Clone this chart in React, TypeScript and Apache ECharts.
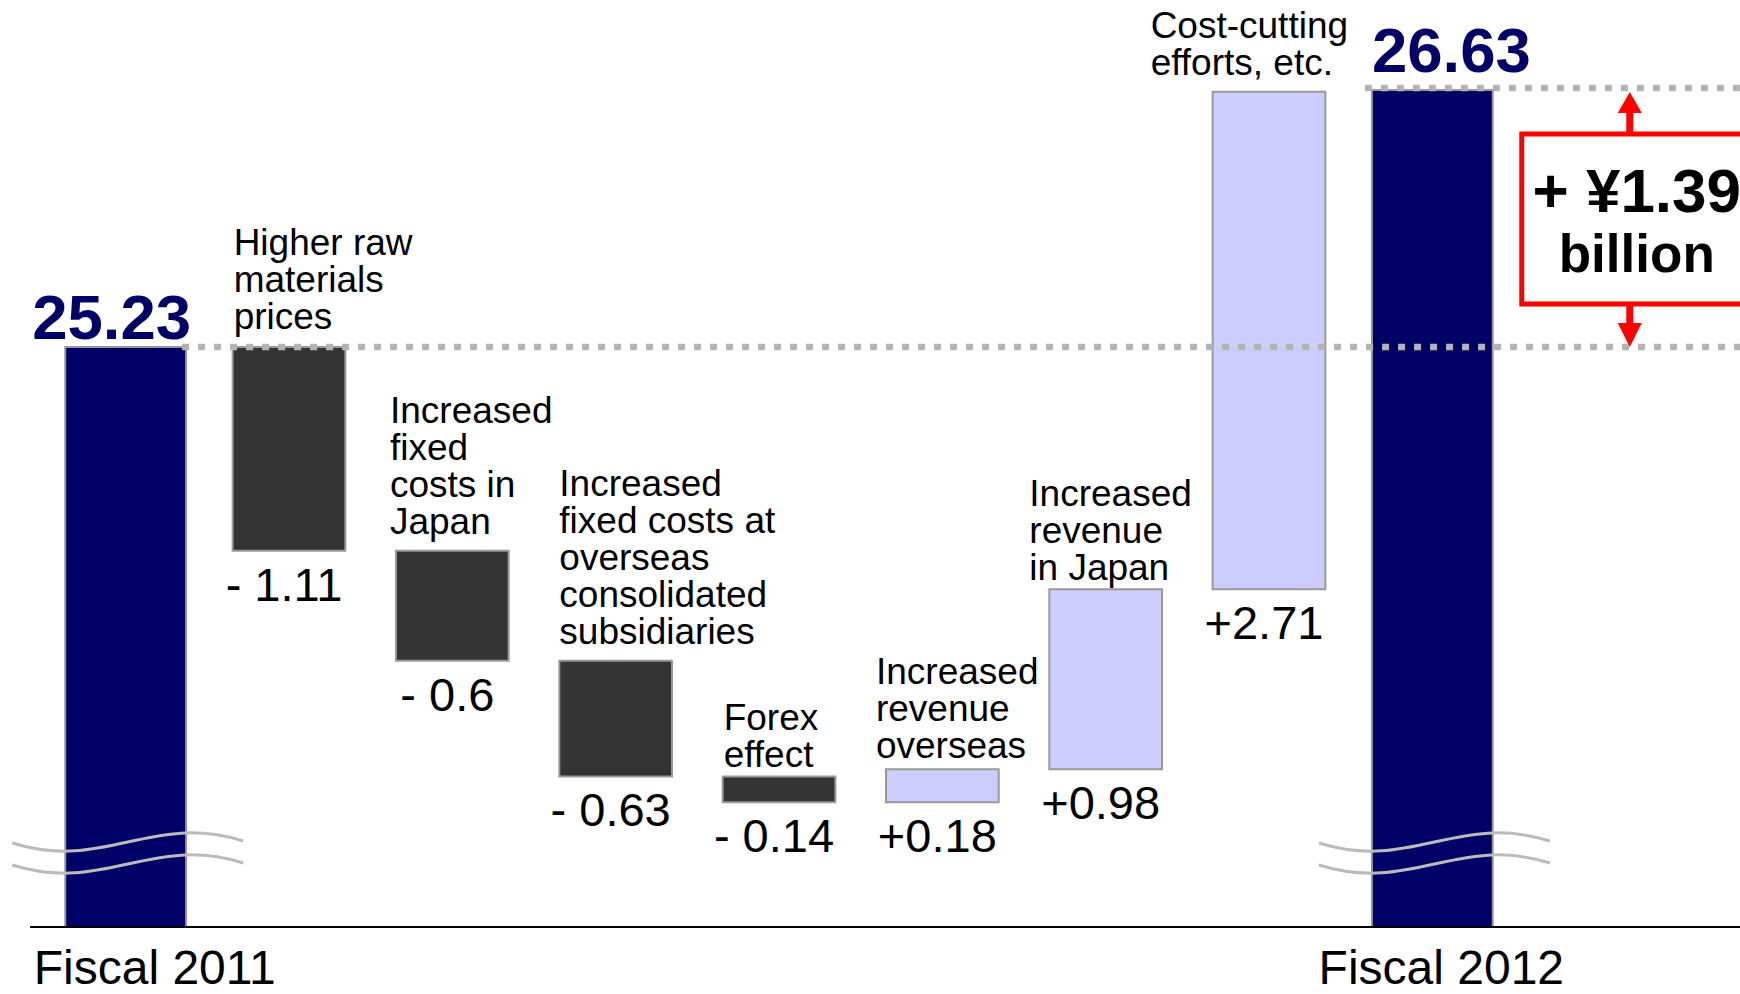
import React, { useEffect, useRef } from "react";
import * as echarts from "echarts";

// Operating income bridge, Fiscal 2011 -> Fiscal 2012 (¥ billion)
const categories = [
  "Fiscal 2011",
  "Higher raw\nmaterials\nprices",
  "Increased\nfixed\ncosts in\nJapan",
  "Increased\nfixed costs at\noverseas\nconsolidated\nsubsidiaries",
  "Forex\neffect",
  "Increased\nrevenue\noverseas",
  "Increased\nrevenue\nin Japan",
  "Cost-cutting\nefforts, etc.",
  "Fiscal 2012",
];
const startTotal = 25.23;
const endTotal = 26.63;
const changes = [-1.11, -0.6, -0.63, -0.14, 0.18, 0.98, 2.71];
const unitLabel = "billion";

// broken value axis: only the upper part of the totals is shown
const Y_MIN = 22.07;
const Y_MAX = 27.12;

const FONT = "'Liberation Sans', Arial, Helvetica, sans-serif";
const NAVY = "#000066";
const DARK = "#333333";
const LIGHT = "#ccccff";
const EDGE = "#999999";
const DASH = "#b3b3b3";
const RED = "#ff0000";

// small per-bar nudges for the caption blocks (px)
const descDx = [0, 1, -6, 0, 1, -10, -20, -62, 0];
const descGap = [0, 12, 11, 11, 3, 5, 3, 11, 0];

const TOTAL_W = 0.74;
const STEP_W = 0.69;

function buildRows() {
  const rows: number[][] = [];
  rows.push([0, Y_MIN, startTotal, 0, startTotal]);
  let run = startTotal;
  changes.forEach((c, k) => {
    const next = run + c;
    rows.push([k + 1, Math.min(run, next), Math.max(run, next), c < 0 ? 1 : 2, c]);
    run = next;
  });
  rows.push([categories.length - 1, Y_MIN, endTotal, 0, endTotal]);
  return rows;
}

function fmtChange(c: number) {
  return c < 0 ? "- " + String(Math.abs(c)) : "+" + String(c);
}

function renderItem(params: any, api: any) {
  const idx = params.dataIndex;
  const i = api.value(0);
  const lo = api.value(1);
  const hi = api.value(2);
  const kind = api.value(3);
  const v = api.value(4);
  const band = api.size([1, 0])[0];
  const w = band * (kind === 0 ? TOTAL_W : STEP_W);
  const top = api.coord([i, hi]);
  const bot = api.coord([i, lo]);
  const cx = top[0];
  const x0 = cx - w / 2;
  const fill = kind === 0 ? NAVY : kind === 1 ? DARK : LIGHT;
  const children: any[] = [
    {
      type: "rect",
      shape: { x: x0, y: top[1], width: w, height: bot[1] - top[1] },
      style: { fill, stroke: EDGE, lineWidth: 2 },
    },
  ];
  if (kind === 0) {
    const first = idx === 0;
    children.push({
      type: "text",
      style: {
        text: v.toFixed(2),
        x: cx + (first ? -14 : 19),
        y: top[1] + (first ? 1.5 : -8.5),
        align: "center",
        verticalAlign: "bottom",
        fontSize: 63.5,
        lineHeight: 63.5,
        fontWeight: "bold",
        fontFamily: FONT,
        fill: NAVY,
      },
    });
  } else {
    children.push({
      type: "text",
      style: {
        text: categories[idx],
        x: x0 + descDx[idx],
        y: top[1] - descGap[idx],
        align: "left",
        verticalAlign: "bottom",
        fontSize: 37,
        lineHeight: 37,
        fontFamily: FONT,
        fill: "#000",
      },
    });
    children.push({
      type: "text",
      style: {
        text: fmtChange(v),
        x: cx - 5,
        y: bot[1] + 10,
        align: "center",
        verticalAlign: "top",
        fontSize: 47,
        lineHeight: 47,
        fontFamily: FONT,
        fill: "#000",
      },
    });
  }
  return { type: "group", children };
}

function buildOption() {
  const last = categories.length - 1;
  return {
    animation: false,
    backgroundColor: "#ffffff",
    grid: { left: 44, right: 226, top: 0, bottom: 67, containLabel: false, outerBoundsMode: "none" },
    xAxis: {
      type: "category",
      data: categories,
      axisLine: { show: false },
      axisTick: { show: false },
      splitLine: { show: false },
      axisLabel: {
        interval: 0,
        margin: 20,
        formatter: (val: string, idx: number) =>
          idx === 0 ? `{a|${val}}` : idx === last ? `{b|${val}}` : "",
        rich: {
          a: { fontSize: 48, lineHeight: 40, fontFamily: FONT, color: "#000", padding: [0, 0, 0, 58] },
          b: { fontSize: 48, lineHeight: 40, fontFamily: FONT, color: "#000", padding: [0, 0, 0, 18] },
        },
      },
    },
    yAxis: { type: "value", min: Y_MIN, max: Y_MAX, show: false },
    series: [
      {
        type: "custom",
        renderItem,
        encode: { x: 0, y: [1, 2] },
        data: buildRows(),
        z: 2,
      },
    ],
  };
}

function buildGraphic(chart: any) {
  const last = categories.length - 1;
  const px = (i: number, v: number) => chart.convertToPixel({ gridIndex: 0 }, [i, v]) as number[];
  const W = chart.getWidth();
  const baseY = px(0, Y_MIN)[1];
  const yStart = px(0, startTotal)[1];
  const yEnd = px(last, endTotal)[1];
  const c0 = px(0, startTotal)[0];
  const cN = px(last, endTotal)[0];
  const band = px(1, startTotal)[0] - c0;
  const tw = band * TOTAL_W;
  const bar0Left = c0 - tw / 2;
  const bar0Right = c0 + tw / 2;
  const barNLeft = cN - tw / 2;
  const barNRight = cN + tw / 2;

  const net = changes.reduce((a, b) => a + b, 0);
  const boxTop = yEnd + 44;
  const boxBottom = yStart - 43;
  const boxLeft = barNRight + 29;
  const ax = barNRight + 137;
  const tx = barNRight + 144;

  const dashStyle = { stroke: DASH, lineWidth: 6.5, lineDash: [7, 9] };
  const els: any[] = [
    // base line
    { type: "line", z: 20, shape: { x1: 30, y1: baseY, x2: W, y2: baseY }, style: { stroke: "#000", lineWidth: 2 } },
    // reference levels of the two totals
    { type: "line", z: 20, shape: { x1: bar0Right - 4, y1: yStart, x2: W, y2: yStart }, style: dashStyle },
    { type: "line", z: 20, shape: { x1: barNLeft - 7, y1: yEnd - 2, x2: W, y2: yEnd - 2 }, style: dashStyle },
    // net change call-out
    {
      type: "rect",
      z: 21,
      shape: { x: boxLeft, y: boxTop, width: 320, height: boxBottom - boxTop },
      style: { fill: "#ffffff", stroke: RED, lineWidth: 5 },
    },
    { type: "line", z: 21, shape: { x1: ax, y1: yEnd + 22, x2: ax, y2: boxTop }, style: { stroke: RED, lineWidth: 7 } },
    {
      type: "polygon",
      z: 21,
      shape: { points: [[ax - 12, yEnd + 23], [ax + 12, yEnd + 23], [ax, yEnd + 2]] },
      style: { fill: RED },
    },
    { type: "line", z: 21, shape: { x1: ax, y1: boxBottom, x2: ax, y2: yStart - 23 }, style: { stroke: RED, lineWidth: 7 } },
    {
      type: "polygon",
      z: 21,
      shape: { points: [[ax - 12, yStart - 24], [ax + 12, yStart - 24], [ax, yStart]] },
      style: { fill: RED },
    },
    {
      type: "text",
      z: 22,
      style: {
        text: `+ ¥${net.toFixed(2)}`,
        x: tx,
        y: boxTop + 57,
        align: "center",
        verticalAlign: "middle",
        fontSize: 62,
        fontWeight: "bold",
        fontFamily: FONT,
        fill: "#000",
      },
    },
    {
      type: "text",
      z: 22,
      style: {
        text: unitLabel,
        x: tx,
        y: boxTop + 120,
        align: "center",
        verticalAlign: "middle",
        fontSize: 53,
        fontWeight: "bold",
        fontFamily: FONT,
        fill: "#000",
      },
    },
  ];

  // axis-break marks across the two total bars
  [bar0Left, barNLeft].forEach((x0) => {
    [baseY - 84, baseY - 62].forEach((Y) => {
      els.push({
        type: "bezierCurve",
        z: 20,
        shape: {
          x1: x0 - 53,
          y1: Y,
          cpx1: x0 + 40,
          cpy1: Y + 29,
          cpx2: x0 + 85,
          cpy2: Y - 31,
          x2: x0 + 178,
          y2: Y - 2,
        },
        style: { stroke: "#bbbbbb", lineWidth: 3, fill: null },
      });
    });
  });
  return els;
}

export default function App() {
  const ref = useRef<HTMLDivElement>(null);
  useEffect(() => {
    const el = ref.current;
    if (!el) return;
    const chart = echarts.init(el, null, { renderer: "svg" });
    chart.setOption(buildOption());
    chart.setOption({ graphic: buildGraphic(chart) });
    return () => chart.dispose();
  }, []);
  return (
    <div
      ref={ref}
      style={{ position: "fixed", left: 0, top: 0, width: 1740, height: 994, background: "#ffffff" }}
    />
  );
}
